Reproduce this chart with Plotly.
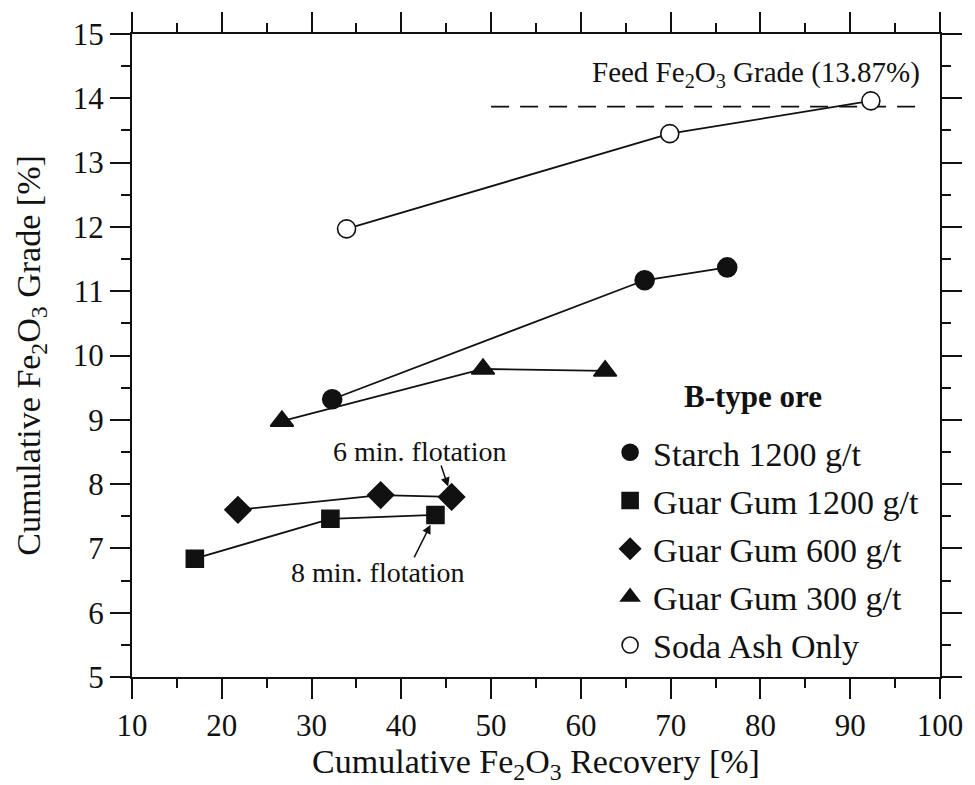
import plotly.graph_objects as go

# Cumulative Fe2O3 recovery [%] and grade [%] for each depressant condition (B-type ore)
starch_1200_rec = [32.3, 67.1, 76.3]
starch_1200_grade = [9.32, 11.17, 11.37]

guar_1200_rec = [17.0, 32.1, 43.8]
guar_1200_grade = [6.84, 7.46, 7.52]

guar_600_rec = [21.8, 37.7, 45.6]
guar_600_grade = [7.60, 7.83, 7.80]

guar_300_rec = [26.7, 49.1, 62.7]
guar_300_grade = [8.98, 9.79, 9.76]

soda_ash_rec = [33.9, 69.9, 92.3]
soda_ash_grade = [11.97, 13.45, 13.96]

feed_grade = 13.87
feed_line_rec = [50.0, 98.3]

x_ticks = [10, 20, 30, 40, 50, 60, 70, 80, 90, 100]
y_ticks = [5, 6, 7, 8, 9, 10, 11, 12, 13, 14, 15]

FONT = "Liberation Serif, Times New Roman, serif"
INK = "#111111"

# name, x, y, symbol, fill, size
series = [
    ("Starch 1200 g/t", starch_1200_rec, starch_1200_grade, "circle", INK, 19),
    ("Guar Gum 1200 g/t", guar_1200_rec, guar_1200_grade, "square", INK, 17),
    ("Guar Gum 600 g/t", guar_600_rec, guar_600_grade, "diamond", INK, 20),
    ("Guar Gum 300 g/t", guar_300_rec, guar_300_grade, "triangle-up", INK, 20),
    ("Soda Ash Only", soda_ash_rec, soda_ash_grade, "circle", "white", 18),
]

fig = go.Figure()

# feed grade reference line
fig.add_trace(go.Scatter(
    x=feed_line_rec, y=[feed_grade, feed_grade], mode="lines",
    line=dict(color=INK, width=1.8, dash="18px,11px"),
    showlegend=False, hoverinfo="skip",
))

for i, (name, xs, ys, sym, fill, size) in enumerate(series):
    grp = f"g{i}"
    fig.add_trace(go.Scatter(
        x=xs, y=ys, mode="lines", line=dict(color=INK, width=1.8),
        legendgroup=grp, showlegend=False, hoverinfo="skip",
    ))
    fig.add_trace(go.Scatter(
        x=xs, y=ys, mode="markers", name=name, legendgroup=grp,
        marker=dict(symbol=sym, size=size, color=fill,
                    line=dict(color=INK, width=1.6)),
    ))

annotations = [
    dict(x=79.5, y=14.38, xref="x", yref="y", showarrow=False,
         text="Feed Fe<sub>2</sub>O<sub>3</sub> Grade (13.87%)",
         font=dict(family=FONT, size=29, color=INK)),
    dict(x=guar_600_rec[2] - 3.6, y=guar_600_grade[2] + 0.71, xref="x", yref="y", showarrow=False,
         text="6 min. flotation", font=dict(family=FONT, size=28, color=INK)),
    dict(x=guar_600_rec[2], y=guar_600_grade[2], xref="x", yref="y", text="",
         showarrow=True, arrowhead=2, arrowsize=1.2, arrowwidth=1.5, arrowcolor=INK,
         ax=-11, ay=-33, standoff=11),
    dict(x=guar_1200_rec[2] - 6.5, y=guar_1200_grade[2] - 0.89, xref="x", yref="y", showarrow=False,
         text="8 min. flotation", font=dict(family=FONT, size=28, color=INK)),
    dict(x=guar_1200_rec[2], y=guar_1200_grade[2], xref="x", yref="y", text="",
         showarrow=True, arrowhead=2, arrowsize=1.2, arrowwidth=1.5, arrowcolor=INK,
         ax=-22, ay=44, standoff=11),
    # legend heading
    dict(x=0.769, y=0.436, xref="paper", yref="paper", xanchor="center", yanchor="middle",
         showarrow=False, text="<b>B-type ore</b>", font=dict(family=FONT, size=31, color=INK)),
]

axis_common = dict(
    showline=True, linecolor=INK, linewidth=2.2, mirror="allticks",
    ticks="outside", ticklen=20, tickwidth=2.2, tickcolor=INK,
    showgrid=False, zeroline=False,
    tickfont=dict(family=FONT, size=31, color=INK),
)

fig.update_layout(
    width=975, height=785,
    margin=dict(l=132, r=30, t=33, b=105),
    paper_bgcolor="white", plot_bgcolor="white",
    font=dict(family=FONT, color=INK),
    xaxis=dict(
        range=[10, 100], tickvals=x_ticks, ticktext=[str(v) for v in x_ticks],
        minor=dict(dtick=5, tick0=0, ticks="outside", ticklen=9, tickwidth=2.2, tickcolor=INK),
        title=dict(text="Cumulative Fe<sub>2</sub>O<sub>3</sub> Recovery [%]",
                   font=dict(family=FONT, size=34, color=INK), standoff=6),
        **axis_common,
    ),
    yaxis=dict(
        range=[5, 15], tickvals=y_ticks, ticktext=[str(v) for v in y_ticks],
        minor=dict(dtick=0.5, tick0=0, ticks="outside", ticklen=9, tickwidth=2.2, tickcolor=INK),
        title=dict(text="Cumulative Fe<sub>2</sub>O<sub>3</sub> Grade [%]",
                   font=dict(family=FONT, size=34, color=INK), standoff=22),
        **axis_common,
    ),
    legend=dict(
        x=0.588, y=0.394, xanchor="left", yanchor="top",
        bgcolor="rgba(0,0,0,0)", borderwidth=0,
        font=dict(family=FONT, size=34, color=INK),
        tracegroupgap=1, itemwidth=36,
    ),
    annotations=annotations,
    showlegend=True,
)

fig.write_html("out.html")
